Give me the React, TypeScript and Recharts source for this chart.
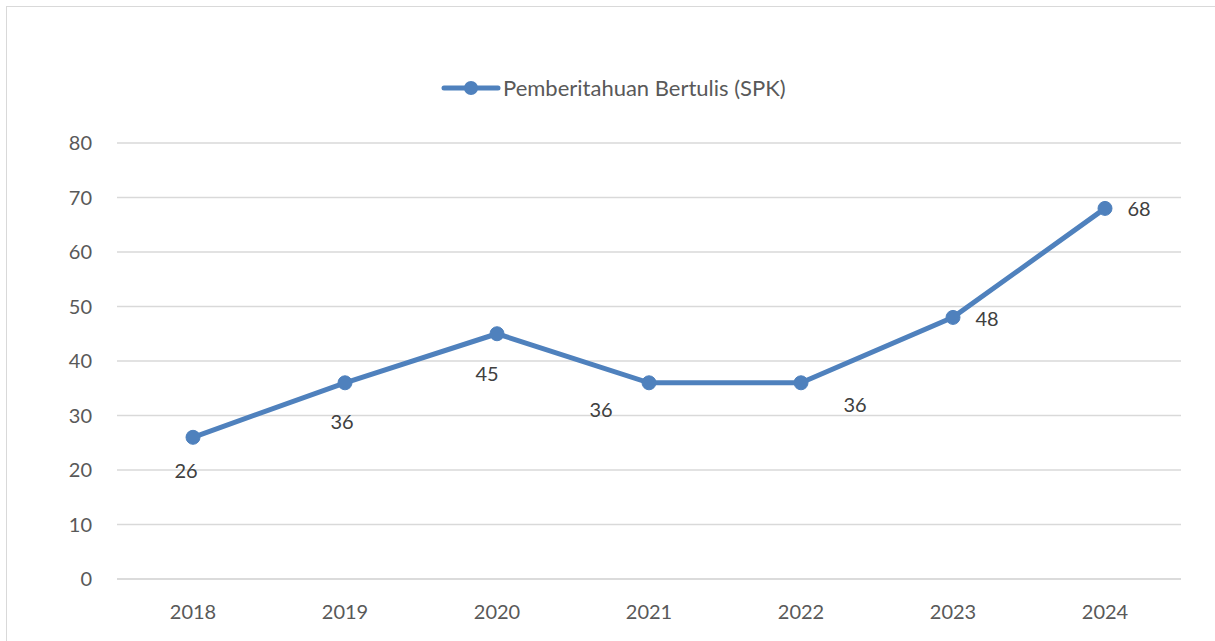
import React from "react";
import { LineChart, Line, XAxis, YAxis, CartesianGrid } from "recharts";

const YEARS = ["2018", "2019", "2020", "2021", "2022", "2023", "2024"];
const SPK = [26, 36, 45, 36, 36, 48, 68];
const Y_TICKS = [0, 10, 20, 30, 40, 50, 60, 70, 80];
const SERIES_NAME = "Pemberitahuan Bertulis (SPK)";

const data = YEARS.map((year, i) => ({ year, spk: SPK[i] }));

// where each value label sits relative to its point (Excel-style manual placement)
const LABEL_OFFSETS = [
    [-7, 33], [-3, 38], [-10, 39], [-48, 26], [54, 21], [34, 1], [34, 0],
];

const FONT = "Lato, 'Open Sans', sans-serif";
const BLUE = "#4f81bd";
const TEXT = "#595959";

// eslint-disable-next-line @typescript-eslint/no-explicit-any
const ValueLabel = ({ x, y, value, index }: any) => {
    const [dx, dy] = LABEL_OFFSETS[index] || [0, -12];
    return (
        <text x={x + dx} y={y + dy} textAnchor="middle" dominantBaseline="central"
            fontSize={20} fill="#404040" fontFamily={FONT}>
            {value}
        </text>
    );
};

const LegendBox = () => (
    <div style={{ position: "absolute", left: 441, top: 76, display: "flex", alignItems: "center", fontFamily: FONT }}>
        <svg width={60} height={24}>
            <line x1={3} y1={12} x2={57} y2={12} stroke={BLUE} strokeWidth={5} strokeLinecap="round" />
            <circle cx={30} cy={12} r={7} fill={BLUE} />
        </svg>
        <span style={{ fontSize: 22, color: TEXT, marginLeft: 2, lineHeight: "24px" }}>{SERIES_NAME}</span>
    </div>
);

export default function App() {
    return (
        <div style={{ position: "fixed", left: 0, top: 0, width: 1215, height: 641, overflow: "hidden", background: "#fff" }}>
            <div style={{ position: "absolute", left: 6, top: 6, width: 1220, height: 660, border: "1.5px solid #d9d9d9", boxSizing: "border-box" }} />
            <div style={{ position: "absolute", left: 0, top: 0 }}>
                <LineChart width={1215} height={641} data={data}
                    margin={{ top: 143, right: 34, bottom: 0, left: 57 }}>
                    <CartesianGrid vertical={false} stroke="#d9d9d9" strokeWidth={1.5} />
                    <XAxis dataKey="year" axisLine={{ stroke: "#d9d9d9", strokeWidth: 1.5 }} tickLine={false}
                        height={62} tickMargin={20} padding={{ left: 76, right: 76 }}
                        tick={{ fontSize: 20, fill: TEXT, fontFamily: FONT }} />
                    <YAxis domain={[0, 80]} ticks={Y_TICKS} axisLine={false} tickLine={false}
                        width={60} tickMargin={19}
                        tick={{ fontSize: 20, fill: TEXT, fontFamily: FONT }} />
                    <Line type="linear" dataKey="spk" name={SERIES_NAME} stroke={BLUE} strokeWidth={5}
                        dot={{ r: 7, fill: BLUE, stroke: BLUE, strokeWidth: 1 }} activeDot={false}
                        isAnimationActive={false} label={<ValueLabel />} />
                </LineChart>
            </div>
            <LegendBox />
        </div>
    );
}
